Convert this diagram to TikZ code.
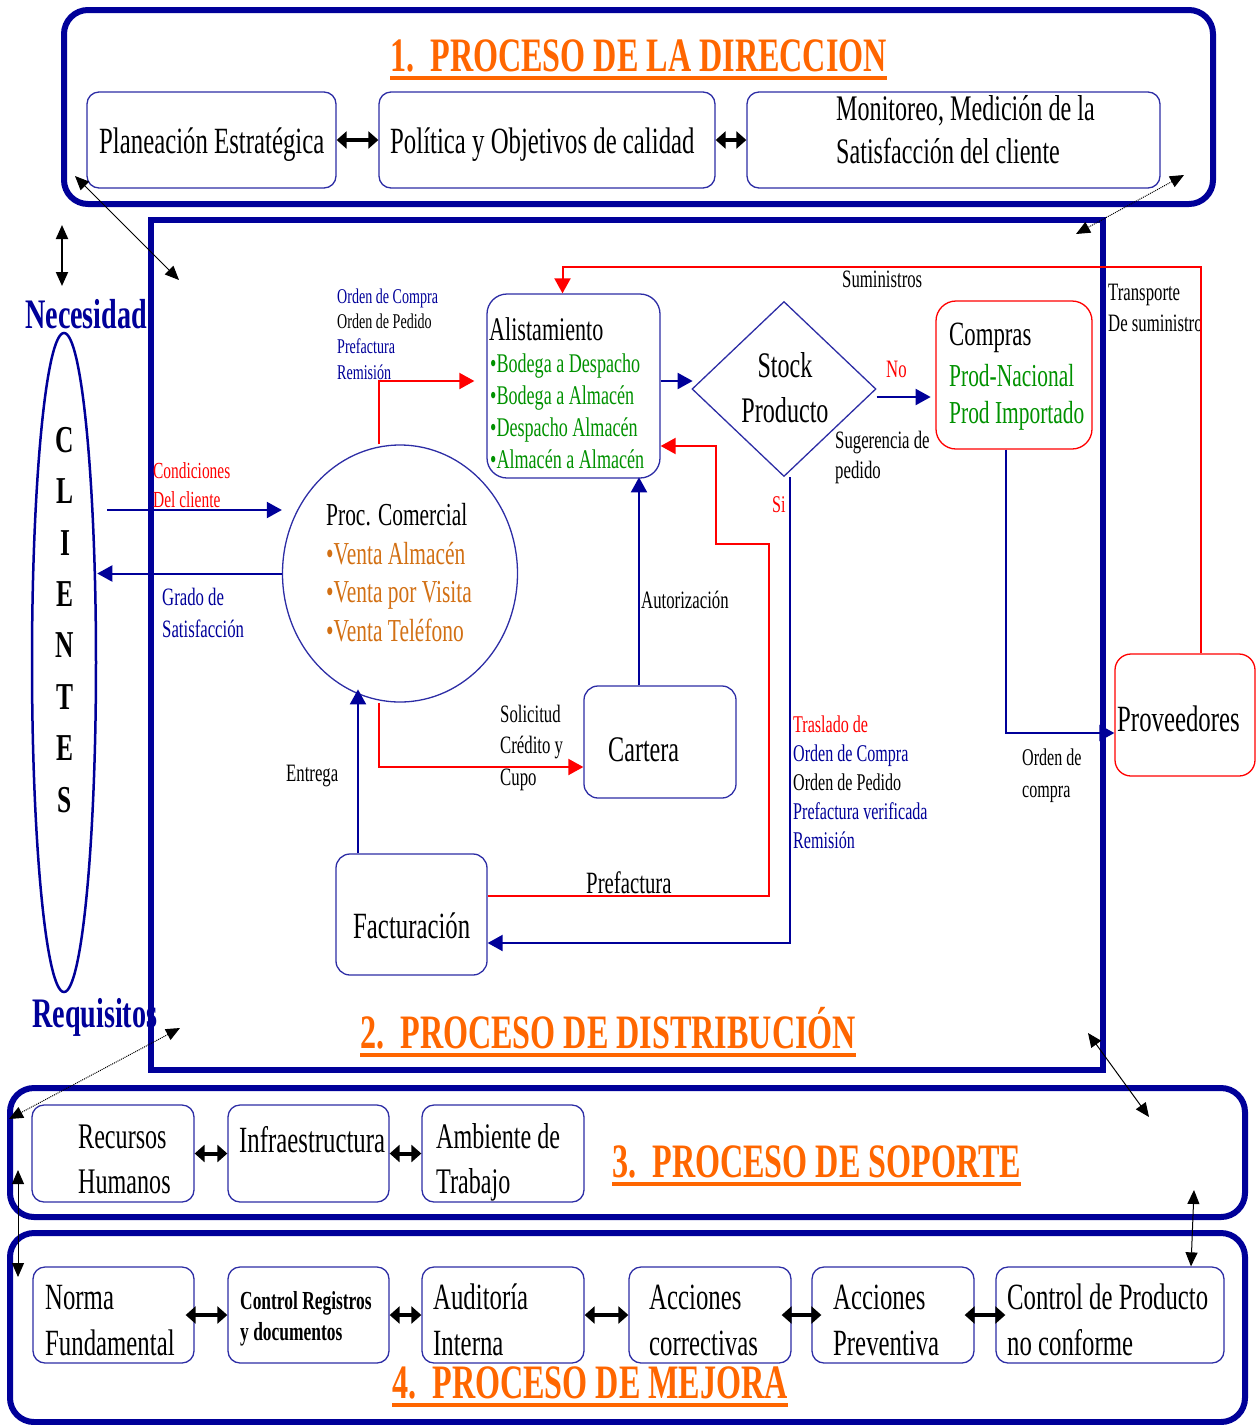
\documentclass[tikz,border=0pt]{standalone}
\usepackage{fontspec}
\setmainfont{Liberation Serif}[FakeStretch=0.67]
\usetikzlibrary{arrows.meta,shapes}

\definecolor{navy}{RGB}{0,0,153}
\definecolor{bblue}{RGB}{45,45,165}
\definecolor{orng}{RGB}{255,102,0}
\definecolor{vnt}{RGB}{210,112,20}
\definecolor{grn}{RGB}{0,145,0}
\definecolor{rd}{RGB}{255,0,0}
\newcommand\fs[2]{\fontsize{#1}{#2}\selectfont}

\tikzset{
  marco/.style={draw=navy, line width=6pt, rounded corners=24pt},
  caja/.style={draw=bblue, line width=1.3pt, rounded corners=12pt},
  cajaroja/.style={draw=rd, line width=1.3pt, rounded corners=20pt},
  txt/.style={anchor=base west, inner sep=0pt, align=left},
  titulo/.style={txt, text=orng, font=\bfseries\fs{48}{52}},
  flujo/.style={draw=navy, line width=2pt, -{Triangle[length=15pt,width=16pt]}},
  flujor/.style={draw=rd, line width=2pt, -{Triangle[length=15pt,width=16pt]}},
  doble/.style={line width=4pt, {Triangle[length=10pt,width=17pt]}-{Triangle[length=10pt,width=17pt]}},
  enlace/.style={line width=1pt, {Triangle[length=14pt,width=12pt]}-{Triangle[length=14pt,width=12pt]}},
}

\begin{document}
\begin{tikzpicture}[x=1pt,y=-1pt]
\useasboundingbox (0,0) rectangle (1257,1425);

% marcos de los cuatro procesos
\node at (638.5,107) [marco, minimum width=1149pt, minimum height=194pt] (m1) {};
\node at (627,645) [marco, sharp corners, minimum width=952pt, minimum height=850pt] (m2) {};
\node at (627.5,1152.5) [marco, minimum width=1235pt, minimum height=129pt] (m3) {};
\node at (627.5,1327.5) [marco, minimum width=1235pt, minimum height=189pt] (m4) {};

\node at (390,71) [titulo] (t1) {1.\ \ PROCESO DE LA DIRECCION};
\node at (360,1048) [titulo] (t2) {2.\ \ PROCESO DE DISTRIBUCIÓN};
\node at (612,1177) [titulo] (t3) {3.\ \ PROCESO DE SOPORTE};
\node at (392,1398) [titulo] (t4) {4.\ \ PROCESO DE MEJORA};
\draw[orng, line width=3.5pt] ([yshift=-7pt]t1.base west) -- ([yshift=-7pt]t1.base east);
\draw[orng, line width=3.5pt] ([yshift=-7pt]t2.base west) -- ([yshift=-7pt]t2.base east);
\draw[orng, line width=3.5pt] ([yshift=-7pt]t3.base west) -- ([yshift=-7pt]t3.base east);
\draw[orng, line width=3.5pt] ([yshift=-7pt]t4.base west) -- ([yshift=-7pt]t4.base east);

% direccion
\node at (211.5,140) [caja, minimum width=249pt, minimum height=96pt] (pe) {};
\node at (547,140) [caja, minimum width=336pt, minimum height=96pt] (po) {};
\node at (953.5,140) [caja, minimum width=413pt, minimum height=96pt] (mo) {};
\node at (99,153) [txt, font=\fs{37}{44}] (tpe) {Planeación Estratégica};
\node at (390,153) [txt, font=\fs{37}{44}] (tpo) {Política y Objetivos de calidad};
\node at (836,163) [txt, font=\fs{36}{43}] (tmo) {Monitoreo, Medición de la\\Satisfacción del cliente};
\draw[doble] (pe) -- (po);
\draw[doble] (po) -- (mo);

% clientes
\node at (64,662.5) [ellipse, draw=navy, line width=2.5pt, minimum width=64pt, minimum height=659pt, inner sep=0pt] (cl) {};
\node at (65,812) [anchor=base, inner sep=0pt, align=center, font=\bfseries\fs{38}{51.4}] (le) {C\\L\\I\\E\\N\\T\\E\\S};
\node at (25,328) [txt, text=navy, font=\bfseries\fs{42}{46}] (ne) {Necesidad};
\node at (32,1027) [txt, text=navy, font=\bfseries\fs{42}{46}] (rq) {Requisitos};

% distribucion
\node at (400,573.5) [ellipse, draw=bblue, line width=1.3pt, minimum width=235pt, minimum height=257pt, inner sep=0pt] (pc) {};
\node at (573.5,386) [caja, rounded corners=20pt, minimum width=173pt, minimum height=184pt] (al) {};
\node at (784,389) [diamond, draw=bblue, line width=1.3pt, minimum width=184pt, minimum height=175pt, inner sep=0pt] (sp) {};
\node at (1014,375) [cajaroja, minimum width=156pt, minimum height=148pt] (co) {};
\node at (1185,715) [cajaroja, rounded corners=16pt, minimum width=140pt, minimum height=122pt] (pv) {};
\node at (660,742) [caja, rounded corners=14pt, minimum width=152pt, minimum height=112pt] (ca) {};
\node at (411.5,914.5) [caja, rounded corners=14pt, minimum width=151pt, minimum height=121pt] (fa) {};

\node at (326,641) [txt, font=\fs{32}{38.5}] (tpc) {Proc. Comercial\\\textcolor{vnt}{•Venta Almacén}\\\textcolor{vnt}{•Venta por Visita}\\\textcolor{vnt}{•Venta Teléfono}};
\node at (489,340) [txt, font=\fs{33}{40}] (tal) {Alistamiento};
\node at (490,468) [txt, text=grn, font=\fs{27}{31.7}] (tal2) {•Bodega a Despacho\\•Bodega a Almacén\\•Despacho Almacén\\•Almacén a Almacén};
\node at (785,422) [anchor=base, inner sep=0pt, align=center, font=\fs{36}{45}] (tsp) {Stock\\Producto};
\node at (949,345) [txt, font=\fs{34}{40}] (tco) {Compras};
\node at (949,423) [txt, text=grn, font=\fs{32}{37}] (tco2) {Prod-Nacional\\Prod Importado};
\node at (1117,731) [txt, font=\fs{37}{44}] (tpv) {Proveedores};
\node at (608,761) [txt, font=\fs{36}{43}] (tca) {Cartera};
\node at (353,938) [txt, font=\fs{37}{44}] (tfa) {Facturación};

% rotulos
\node at (337,379) [txt, text=navy, font=\fs{21}{25.3}] (r1) {Orden de Compra\\\textcolor{black}{Orden de Pedido}\\Prefactura\\Remisión};
\node at (153,507) [txt, text=rd, font=\fs{23}{29}] (r2) {Condiciones\\Del cliente};
\node at (162,637) [txt, text=navy, font=\fs{25}{32}] (r3) {Grado de\\Satisfacción};
\node at (886,377) [txt, text=rd, font=\fs{25}{30}] (r4) {No};
\node at (835,478) [txt, font=\fs{25}{30}] (r5) {Sugerencia de\\pedido};
\node at (842,287) [txt, font=\fs{25}{30}] (r6) {Suministros};
\node at (1108,331) [txt, font=\fs{25}{31}] (r7) {Transporte\\De suministro};
\node at (1022,797) [txt, font=\fs{24}{32}] (r8) {Orden de\\compra};
\node at (772,512) [txt, text=rd, font=\fs{24}{30}] (r9) {Si};
\node at (641,608) [txt, font=\fs{25}{30}] (r10) {Autorización};
\node at (500,785) [txt, font=\fs{25}{31.5}] (r11) {Solicitud\\Crédito y\\Cupo};
\node at (793,848) [txt, text=navy, font=\fs{24}{28.8}] (r12) {\textcolor{rd}{Traslado de}\\Orden de Compra\\\textcolor{black}{Orden de Pedido}\\Prefactura verificada\\Remisión};
\node at (286,781) [txt, font=\fs{25}{30}] (r13) {Entrega};
\node at (586,893) [txt, font=\fs{31}{36}] (r14) {Prefactura};

\coordinate (cc) at (107,510);
\draw[flujo] (cc) -- (pc.west |- cc);
\draw[flujo] (pc.west) -- (cl.east |- pc.west);
\draw[flujor] ([xshift=-21pt]pc.north) |- ([xshift=-12pt,yshift=5pt]al.west);
\draw[flujo] ([yshift=5pt]al.east) -- ++(32,0);
\draw[flujo] ([yshift=-8pt]sp.east) -- ++(54,0);
\draw[flujo] ([xshift=-8pt]co.south) |- ([yshift=-18pt]pv.west);
\draw[flujor] ([xshift=16pt]pv.north) -- ++(0,-386) -| ([xshift=-11pt]al.north);
\draw[flujo] ([xshift=6pt]sp.south) |- ([yshift=-28.5pt]fa.east);
\draw[flujor] ([yshift=19pt]fa.east) -- ++(281,0) -- ++(0,-352) -- ++(-53,0) |- ([yshift=-60pt]al.east);
\draw[flujo] ([xshift=-21pt]ca.north) -- ++(0,-208);
\draw[flujor] ([xshift=-21pt]pc.south) |- ([yshift=-25pt]ca.west);
\draw[flujo] ([xshift=-53.5pt]fa.north) -- ++(0,-164);

% soporte
\node at (113,1153.5) [caja, minimum width=162pt, minimum height=97pt] (rh) {};
\node at (308.5,1153.5) [caja, minimum width=161pt, minimum height=97pt] (ie) {};
\node at (503,1153.5) [caja, minimum width=162pt, minimum height=97pt] (am) {};
\node at (78,1193) [txt, font=\fs{36}{45}] (trh) {Recursos\\Humanos};
\node at (239,1152) [txt, font=\fs{37}{45}] (tie) {Infraestructura};
\node at (436,1193) [txt, font=\fs{36}{45}] (tam) {Ambiente de\\Trabajo};
\draw[doble] (rh) -- (ie);
\draw[doble] (ie) -- (am);

% mejora
\node at (113.5,1315) [caja, minimum width=161pt, minimum height=96pt] (nf) {};
\node at (308.5,1315) [caja, minimum width=161pt, minimum height=96pt] (cr) {};
\node at (503,1315) [caja, minimum width=162pt, minimum height=96pt] (ai) {};
\node at (710,1315) [caja, minimum width=162pt, minimum height=96pt] (ac) {};
\node at (893,1315) [caja, minimum width=162pt, minimum height=96pt] (ap) {};
\node at (1110,1315) [caja, minimum width=228pt, minimum height=96pt] (cp) {};
\node at (45,1355) [txt, font=\fs{37}{46}] (tnf) {Norma\\Fundamental};
\node at (240,1340) [txt, font=\bfseries\fs{26}{31}] (tcr) {Control Registros\\y documentos};
\node at (433,1355) [txt, font=\fs{37}{46}] (tai) {Auditoría\\Interna};
\node at (649,1355) [txt, font=\fs{37}{46}] (tac) {Acciones\\correctivas};
\node at (833,1355) [txt, font=\fs{37}{46}] (tap) {Acciones\\Preventiva};
\node at (1007,1355) [txt, font=\fs{37}{46}] (tcp) {Control de Producto\\no conforme};
\draw[doble, shorten <=-9pt] (nf) -- (cr);
\draw[doble] (cr) -- (ai);
\draw[doble] (ai) -- (ac);
\draw[doble, shorten <=-10pt, shorten >=-10pt] (ac) -- (ap);
\draw[doble, shorten <=-10pt, shorten >=-10pt] (ap) -- (cp);

% enlaces entre procesos
\draw[enlace] ([xshift=14pt,yshift=31pt]m1.south west) -- ([xshift=31pt,yshift=-63pt]m2.north west);
\draw[enlace, densely dotted] ([xshift=-32pt,yshift=32pt]m1.south east) -- ([xshift=-30pt,yshift=-17pt]m2.north east);
\draw[enlace, densely dotted] ([xshift=32pt,yshift=45pt]m2.south west) -- ([xshift=2pt,yshift=-34pt]m3.north west);
\draw[enlace] ([xshift=-18pt,yshift=40pt]m2.south east) -- ([xshift=-99pt,yshift=-32pt]m3.north east);
\draw[enlace] ([xshift=11pt,yshift=-85pt]m3.north west) -- ([xshift=11pt,yshift=-47pt]m4.north west);
\draw[enlace] ([xshift=-54pt,yshift=30pt]m3.south east) -- ([xshift=81pt]cp.north);
\draw[enlace, line width=2pt] ([xshift=1pt,yshift=-18pt]m1.south west) -- ([xshift=1pt,yshift=-79pt]m1.south west);
\end{tikzpicture}
\end{document}
